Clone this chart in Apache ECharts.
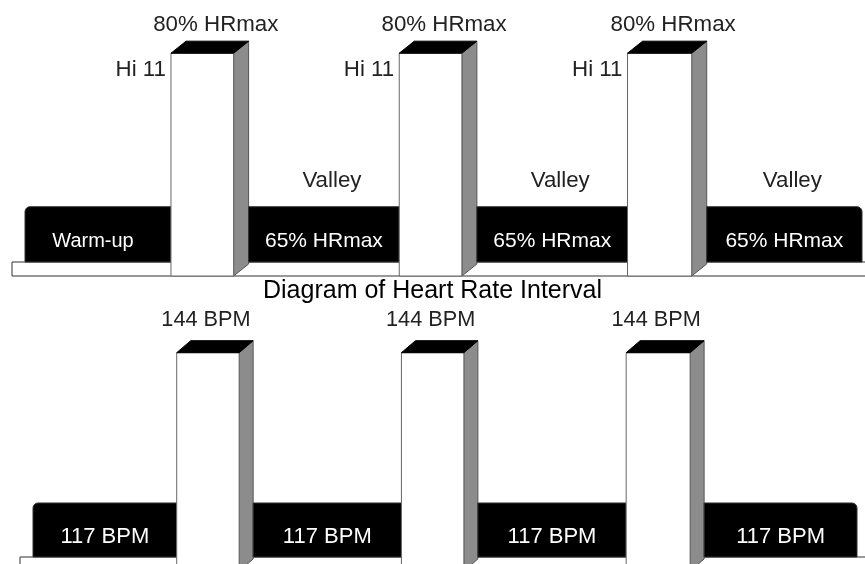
<!DOCTYPE html>
<html><head><meta charset="utf-8">
<script src="https://cdn.jsdelivr.net/npm/echarts@6/dist/echarts.min.js"></script>
<style>html,body{margin:0;padding:0;background:#fff}#c{width:865px;height:564px}</style>
</head><body><div id="c"></div>
<script>
// ---- data ----
const segmentTypes = ['warmup', 'hi', 'valley', 'hi', 'valley', 'hi', 'valley'];
const segmentMinutes = [9.4, 5, 9.7, 5, 9.7, 5.1, 10];
const intensityPctHRmax = [65, 80, 65, 80, 65, 80, 65];
const heartRateBPM = [117, 144, 117, 144, 117, 144, 117];
const hiLabel = 'Hi 11';
const valleyLabel = 'Valley';
const warmupLabel = 'Warm-up';
const chartTitle = 'Diagram of Heart Rate Interval';

// ---- build ----
const starts = [], ends = [];
let acc = 0;
segmentMinutes.forEach(d => { starts.push(acc); acc += d; ends.push(acc); });
const total = acc;

const FONT = 'Liberation Sans, Arial, sans-serif';
function txt(s, x, y, align, color, size) {
  return { type: 'text', style: { text: s, x: x, y: y, align: align || 'center', verticalAlign: 'middle',
    fontSize: size || 22, fontFamily: FONT, fill: color || '#222' } };
}

const panels = [
  { values: intensityPctHRmax, unit: v => v + '% HRmax', dx: 15, dy: 12, strip: 14,
    hiTopOffset: 16, hiTopShift: 6, frontCenter: false, showSide: true, showValley: true, warmText: true,
    topSize: 22.3, innerSize: 21 },
  { values: heartRateBPM, unit: v => v + ' BPM', dx: 14, dy: 12, strip: 14,
    hiTopOffset: 21, hiTopShift: 0, frontCenter: true, showSide: false, showValley: false, warmText: false,
    topSize: 21.7, innerSize: 22 }
];

function makeRender(panel) {
  return function (params, api) {
    const i = api.value(3);
    const v = api.value(2);
    const p0 = api.coord([api.value(0), v]);
    const p1 = api.coord([api.value(1), v]);
    const cs = params.coordSys;
    const floorY = cs.y + cs.height;
    const x0 = p0[0], x1 = p1[0], yTop = p0[1];
    const type = segmentTypes[i];
    const ch = [];
    if (type === 'hi') {
      const dx = panel.dx, dy = panel.dy, bottom = floorY + panel.strip;
      const xf = x1 - dx;
      ch.push({ type: 'polygon', shape: { points: [[xf, yTop], [x1, yTop - dy], [x1, bottom - dy], [xf, bottom]] },
        style: { fill: '#8c8c8c', stroke: '#555', lineWidth: 1 } });
      ch.push({ type: 'rect', shape: { x: x0, y: yTop, width: xf - x0, height: bottom - yTop },
        style: { fill: '#fff', stroke: '#666', lineWidth: 1 } });
      ch.push({ type: 'polygon', shape: { points: [[x0, yTop], [x0 + dx, yTop - dy], [x1, yTop - dy], [xf, yTop]] },
        style: { fill: '#000', stroke: '#000', lineWidth: 1 } });
      const cx = panel.frontCenter ? (x0 + xf) / 2 - 2 : (x0 + x1) / 2 + panel.hiTopShift;
      ch.push(txt(panel.unit(v), cx, yTop - dy - panel.hiTopOffset, 'center', '#222', panel.topSize));
      if (panel.showSide) ch.push(txt(hiLabel, x0 - 5, yTop + 17, 'right', '#222', panel.topSize));
    } else {
      const last = i === segmentTypes.length - 1;
      const r = i === 0 ? [5, 0, 0, 0] : (last ? [0, 5, 0, 0] : 0);
      ch.push({ type: 'rect', shape: { x: x0, y: yTop, width: x1 - x0, height: floorY - yTop, r: r },
        style: { fill: '#000', stroke: '#333', lineWidth: 1 } });
      const cx = (x0 + x1) / 2;
      const isWarm = type === 'warmup' && panel.warmText;
      const inner = isWarm ? warmupLabel : panel.unit(v);
      ch.push(txt(inner, isWarm ? cx - 5 : cx, (yTop + floorY) / 2 + 7, 'center', '#fff',
        isWarm ? 20 : panel.innerSize));
      if (type === 'valley' && panel.showValley) ch.push(txt(valleyLabel, cx + 8, yTop - 26, 'center', '#222', 22.3));
    }
    return { type: 'group', children: ch };
  };
}

function stripRender(panel) {
  return function (params, api) {
    const p0 = api.coord([api.value(0), api.value(2)]);
    const cs = params.coordSys;
    const floorY = cs.y + cs.height;
    return { type: 'rect', shape: { x: p0[0] - 13, y: floorY, width: api.getWidth() + 20 - p0[0], height: panel.strip },
      style: { fill: '#fff', stroke: '#333', lineWidth: 1 } };
  };
}

const grids = [
  { left: 25, right: 3, top: 2, height: 260 },
  { left: 33, right: 8, top: 297, height: 260 }
];
const yRanges = [[59.6, 85], [107.3, 154]];

const series = [];
panels.forEach((panel, k) => {
  const data = segmentTypes.map((t, i) => [starts[i], ends[i], panel.values[i], i]);
  series.push({ type: 'custom', xAxisIndex: k, yAxisIndex: k, clip: false, z: 1,
    renderItem: stripRender(panel), data: [[0, total, yRanges[k][0], 0]], silent: true });
  series.push({ type: 'custom', xAxisIndex: k, yAxisIndex: k, clip: false, z: 2,
    renderItem: makeRender(panel), data: data, silent: true });
});

const chart = echarts.init(document.getElementById('c'), null, { renderer: 'canvas' });
chart.setOption({
  animation: false,
  backgroundColor: '#fff',
  title: { text: chartTitle, left: 'center', top: 274,
    textStyle: { fontSize: 25, fontWeight: 'normal', color: '#000', fontFamily: FONT } },
  grid: grids,
  xAxis: grids.map((g, k) => ({ type: 'value', gridIndex: k, min: 0, max: total, show: false })),
  yAxis: grids.map((g, k) => ({ type: 'value', gridIndex: k, min: yRanges[k][0], max: yRanges[k][1], show: false })),
  series: series
});
</script>
</body></html>
